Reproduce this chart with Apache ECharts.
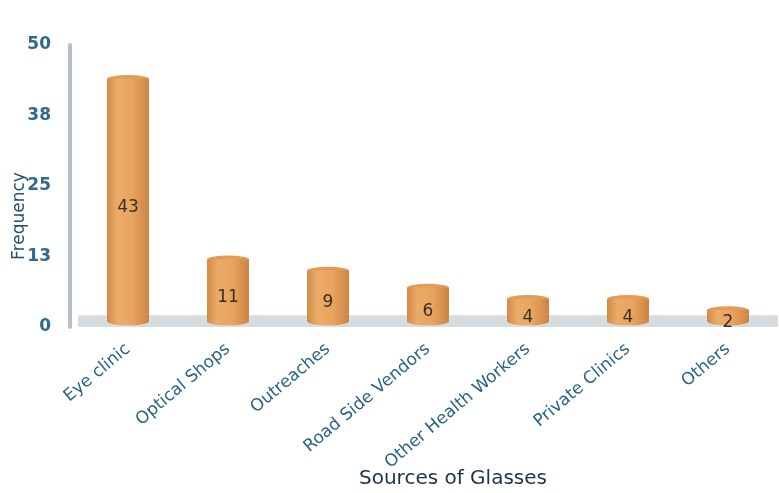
<!DOCTYPE html>
<html>
<head>
<meta charset="utf-8">
<script src="https://cdn.jsdelivr.net/npm/echarts@6/dist/echarts.min.js"></script>
<style>html,body{margin:0;padding:0;background:#fff}#c{width:779px;height:493px}</style>
</head>
<body>
<div id="c"></div>
<script>
var categories = ['Eye clinic', 'Optical Shops', 'Outreaches', 'Road Side Vendors', 'Other Health Workers', 'Private Clinics', 'Others'];
var frequency = [43, 11, 9, 6, 4, 4, 2];
var yTicks = [0, 12.5, 25, 37.5, 50];
var xTitle = 'Sources of Glasses';
var yTitle = 'Frequency';

var font = '"DejaVu Sans", "Noto Sans", sans-serif';
var chart = echarts.init(document.getElementById('c'));
var barGrad = new echarts.graphic.LinearGradient(0, 0, 1, 0, [
  {offset: 0, color: '#D38B46'},
  {offset: 0.25, color: '#EBAB69'},
  {offset: 0.6, color: '#E8A45F'},
  {offset: 1, color: '#CC8443'}
]);
chart.setOption({
  animation: false,
  grid: {left: 78, right: 1, top: 45, bottom: 166, containLabel: false, outerBoundsMode: 'none'},
  xAxis: {
    type: 'category',
    data: categories,
    name: xTitle,
    nameLocation: 'middle',
    nameGap: 142,
    nameMoveOverlap: false,
    nameTextStyle: {fontFamily: font, fontSize: 20, color: '#1d3347', padding: [0, 0, 0, 50]},
    axisLine: {show: false},
    axisTick: {show: false},
    axisLabel: {rotate: 40, interval: 0, fontFamily: font, fontSize: 17, color: '#2c6488', margin: 20}
  },
  yAxis: [{
    type: 'value',
    min: yTicks[0],
    max: yTicks[yTicks.length - 1],
    interval: yTicks[1] - yTicks[0],
    offset: 8,
    name: yTitle,
    nameLocation: 'middle',
    nameGap: 42,
    nameMoveOverlap: false,
    nameRotate: 90,
    nameTextStyle: {fontFamily: font, fontSize: 17, color: '#24506e', padding: [0, 60, 0, 0]},
    axisLine: {show: true, lineStyle: {color: '#b3c0ca', width: 4}},
    axisTick: {show: false},
    splitLine: {show: false},
    axisLabel: {fontFamily: font, fontSize: 17, fontWeight: 'bold', color: '#2f6a8c', margin: 19,
      formatter: function (v) { return String(Math.round(v)); }}
  }, {
    type: 'value',
    show: false,
    min: -1,
    max: 49
  }],
  series: [
    {
      type: 'line',
      data: [],
      silent: true,
      z: 0,
      markArea: {
        silent: true,
        itemStyle: {color: '#d5dde0'},
        data: [[{yAxis: 0}, {yAxis: 2.1}]]
      }
    },
    {
      type: 'bar',
      data: frequency,
      yAxisIndex: 1,
      barWidth: 42,
      z: 3,
      itemStyle: {color: barGrad},
      label: {show: true, position: 'inside', offset: [0, 7], fontFamily: font, fontSize: 17, color: '#3a2f22'}
    },
    {
      type: 'pictorialBar',
      data: frequency,
      yAxisIndex: 1,
      symbol: 'circle',
      symbolSize: [42, 8],
      symbolPosition: 'end',
      symbolOffset: [0, '-50%'],
      z: 2,
      itemStyle: {color: '#E29C57', borderColor: '#F0BE88', borderWidth: 1}
    },
    {
      type: 'pictorialBar',
      data: frequency,
      yAxisIndex: 1,
      symbol: 'circle',
      symbolSize: [42, 8],
      symbolPosition: 'start',
      symbolOffset: [0, '50%'],
      z: 2,
      itemStyle: {color: barGrad}
    }
  ]
});
</script>
</body>
</html>
